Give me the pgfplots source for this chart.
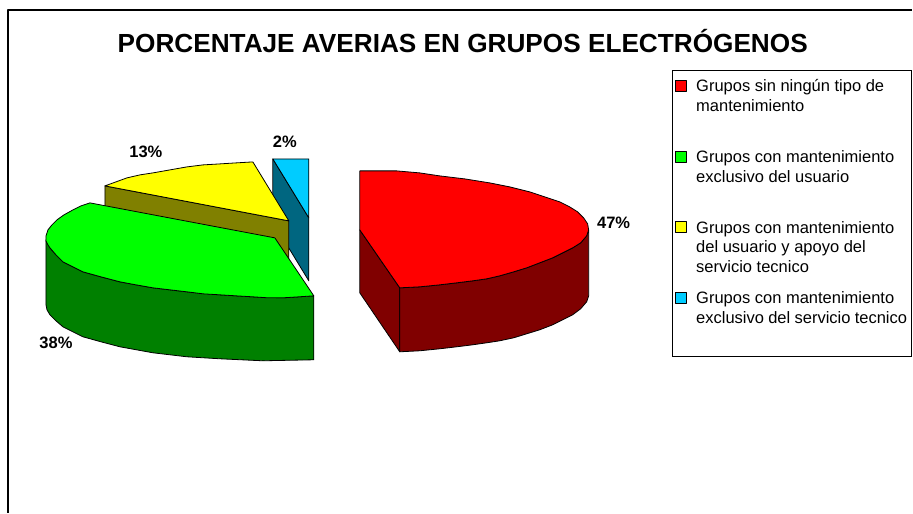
\documentclass[border=0pt]{standalone}
\usepackage{fontspec}
\setmainfont{Liberation Sans}
\usepackage{pgfplots}
\pgfplotsset{compat=1.18}
\definecolor{cr}{HTML}{FF0000}\definecolor{crd}{HTML}{800000}
\definecolor{cg}{HTML}{00FF00}\definecolor{cgd}{HTML}{008000}
\definecolor{cy}{HTML}{FFFF00}\definecolor{cyd}{HTML}{808000}
\definecolor{cb}{HTML}{00CCFF}\definecolor{cbd}{HTML}{006680}
\newcommand{\ent}[1]{\hspace{8pt}\parbox[t][66.6pt][t]{211pt}{\fontsize{16.5}{20}\selectfont\rule{0pt}{17.5pt}#1}}
\begin{document}
\begin{tikzpicture}
\begin{axis}[
  scale only axis, width=913pt, height=513pt,
  xmin=0, xmax=913, ymin=0, ymax=513, y dir=reverse,
  hide axis, clip=false,
  reverse legend,
  legend cell align=left,
  legend style={at={(axis cs:672.5,70)}, anchor=north west, draw=black, line width=0.9pt,
    inner xsep=2pt, inner ysep=2pt, row sep=0pt, fill=white, nodes={text depth=, text height=},
    font=\fontsize{16.5}{20}\selectfont},
  legend image code/.code={\draw[#1, line width=0.7pt] (4pt,16pt) rectangle (15pt,27pt);},
  every axis plot/.append style={draw=black, line width=0.8pt, line join=round},
]
\path (axis cs:0,0) (axis cs:913,513);
% chart frame
\addplot[forget plot, draw=black, line width=1.1pt] coordinates {(8,513)(8,10)(913,10)};
% blue slice
\addplot[forget plot, fill=cbd] coordinates {(273,159)(309,218)(309,281)(273,222)} -- cycle;
\addplot[fill=cb] coordinates {(273,159)(309,159)(309,218)} -- cycle;
% yellow slice
\addplot[forget plot, fill=cyd] coordinates {(105,186)(289,221)(289,284)(105,249)} -- cycle;
\addplot[fill=cy] coordinates {(253,162)(236,163)(220,164)(203,165)(187,167)(170,170)(153,173)(140,175)(127,178)(116,182)(105,186)(289,221)} -- cycle;
% green slice
\addplot[forget plot, fill=cgd] coordinates {(46,240)(46,305)(47,310)(50,315)(56,321)(63,327)(73,332)(83,337)(101,342)(120,347)(153,353)(187,357)(220,359)(263,361)(314,360)(314,296)(283,298)(253,297)(220,295)(187,292)(153,288)(120,282)(101,277)(83,272)(73,267)(63,262)(56,255)(50,248)} -- cycle;
\addplot[fill=cg] coordinates {(90,203)(81,206)(73,210)(64,215)(57,220)(52,225)(48,230)(46,236)(46,241)(48,245)(50,248)(56,255)(63,262)(73,267)(83,272)(101,277)(120,282)(136,285)(153,288)(170,290)(187,292)(203,294)(220,295)(236,296)(253,297)(268,298)(283,298)(299,297)(314,296)(275,238)} -- cycle;
% red slice
\addplot[forget plot, fill=crd] coordinates {(360,230)(360,293)(400,352)(400,288)} -- cycle;
\addplot[forget plot, fill=crd] coordinates {(400,288)(400,352)(420,351)(440,349)(457,347)(473,345)(487,343)(500,341)(514,338)(527,334)(540,330)(553,325)(563,320)(573,315)(581,309)(587,302)(589,296)(589,230)(587,236)(581,243)(573,248)(563,253)(553,258)(540,263)(527,268)(514,272)(500,276)(487,279)(473,281)(457,283)(440,285)(420,287)} -- cycle;
\addplot[fill=cr] coordinates {(360,171)(397,171)(420,173)(440,176)(465,179)(490,183)(510,187)(530,192)(545,197)(560,202)(570,207)(578,212)(584,218)(588,224)(589,230)(587,236)(581,243)(573,248)(563,253)(553,258)(540,263)(527,268)(514,272)(500,276)(487,279)(473,281)(457,283)(440,285)(420,287)(400,288)(360,230)} -- cycle;
\legend{\ent{Grupos con mantenimiento\\exclusivo del servicio tecnico},
        \ent{Grupos con mantenimiento\\del usuario y apoyo del\\servicio tecnico},
        \ent{Grupos con mantenimiento\\exclusivo del usuario},
        \ent{Grupos sin ningún tipo de\\mantenimiento}}
\node[font=\fontsize{26.2}{30}\selectfont\bfseries] at (axis cs:463,41) {PORCENTAJE AVERIAS EN GRUPOS ELECTRÓGENOS};
\node[font=\fontsize{16.5}{18}\selectfont\bfseries] at (axis cs:614,223) {47\%};
\node[font=\fontsize{16.5}{18}\selectfont\bfseries] at (axis cs:56,343) {38\%};
\node[font=\fontsize{16.5}{18}\selectfont\bfseries] at (axis cs:146,152) {13\%};
\node[font=\fontsize{16.5}{18}\selectfont\bfseries] at (axis cs:285,142) {2\%};
\end{axis}
\end{tikzpicture}
\end{document}
